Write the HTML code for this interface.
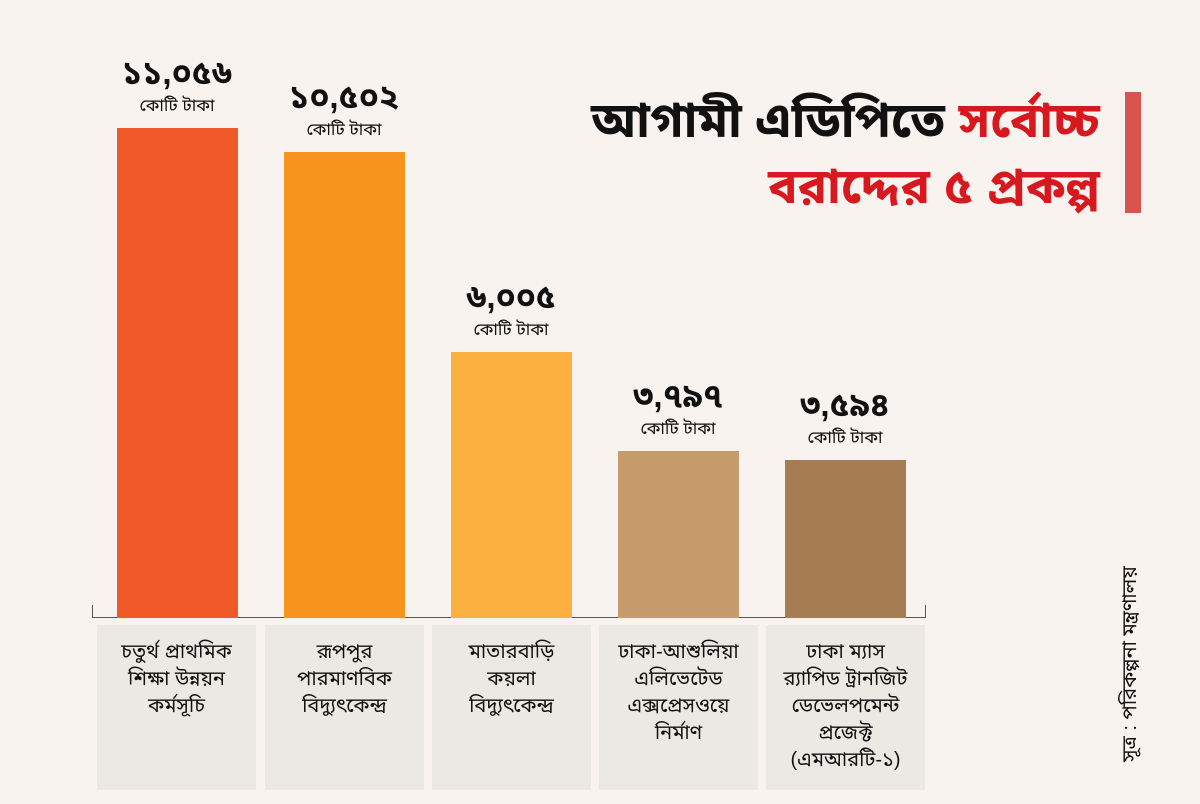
<!DOCTYPE html>
<html><head><meta charset="utf-8"><style>
body{margin:0;width:1200px;height:800px;background:#f8f3ee;position:relative;overflow:hidden;font-family:"Liberation Sans","Noto Sans Bengali","Lohit Bengali","Noto Sans CJK SC",sans-serif;color:#111}
.bar{position:absolute;width:121px;bottom:182px}
.v{position:absolute;width:200px;text-align:center;font-weight:bold;font-size:33px;line-height:30px}
.u{position:absolute;width:200px;text-align:center;font-size:17px;line-height:20px}
.box{position:absolute;top:625px;width:159px;height:165px;background:#ece8e3;text-align:center;font-size:20px;line-height:27px;padding-top:14px;box-sizing:border-box}
</style></head><body>
<div style="position:absolute;left:92px;top:617px;width:834px;height:1px;background:#555"></div>
<div style="position:absolute;left:92px;top:605px;width:1px;height:13px;background:#555"></div>
<div style="position:absolute;left:925px;top:605px;width:1px;height:13px;background:#555"></div>

<div class="bar" style="left:117px;top:128px;height:490px;background:#f05a28"></div>
<div class="bar" style="left:284px;top:152px;height:466px;background:#f7941d"></div>
<div class="bar" style="left:451px;top:352px;height:266px;background:#fbb040"></div>
<div class="bar" style="left:618px;top:451px;height:167px;background:#c69c6d"></div>
<div class="bar" style="left:785px;top:460px;height:158px;background:#a67c52"></div>

<div class="v" style="left:77px;top:58px">১১,০৫৬</div><div class="u" style="left:77px;top:96px">কোটি টাকা</div>
<div class="v" style="left:244px;top:82px">১০,৫০২</div><div class="u" style="left:244px;top:120px">কোটি টাকা</div>
<div class="v" style="left:411px;top:282px">৬,০০৫</div><div class="u" style="left:411px;top:320px">কোটি টাকা</div>
<div class="v" style="left:578px;top:381px">৩,৭৯৭</div><div class="u" style="left:578px;top:419px">কোটি টাকা</div>
<div class="v" style="left:745px;top:390px">৩,৫৯৪</div><div class="u" style="left:745px;top:428px">কোটি টাকা</div>

<div class="box" style="left:97px">চতুর্থ প্রাথমিক<br>শিক্ষা উন্নয়ন<br>কর্মসূচি</div>
<div class="box" style="left:265px">রূপপুর<br>পারমাণবিক<br>বিদ্যুৎকেন্দ্র</div>
<div class="box" style="left:432px">মাতারবাড়ি<br>কয়লা<br>বিদ্যুৎকেন্দ্র</div>
<div class="box" style="left:599px">ঢাকা-আশুলিয়া<br>এলিভেটেড<br>এক্সপ্রেসওয়ে<br>নির্মাণ</div>
<div class="box" style="left:766px">ঢাকা ম্যাস<br>র‍্যাপিড ট্রানজিট<br>ডেভেলপমেন্ট<br>প্রজেক্ট<br>(এমআরটি-১)</div>

<div style="position:absolute;right:100px;top:88px;text-align:right;font-weight:bold;font-size:49px;line-height:66px;white-space:nowrap">আগামী এডিপিতে <span style="color:#d7181f">সর্বোচ্চ</span><br><span style="color:#d7181f">বরাদ্দের ৫ প্রকল্প</span></div>
<div style="position:absolute;left:1125px;top:92px;width:16px;height:121px;background:#d9534f"></div>

<div style="position:absolute;left:990px;top:652px;width:280px;text-align:center;font-size:20px;line-height:24px;transform:rotate(-90deg);transform-origin:center;white-space:nowrap">সূত্র : পরিকল্পনা মন্ত্রণালয়</div>
</body></html>
